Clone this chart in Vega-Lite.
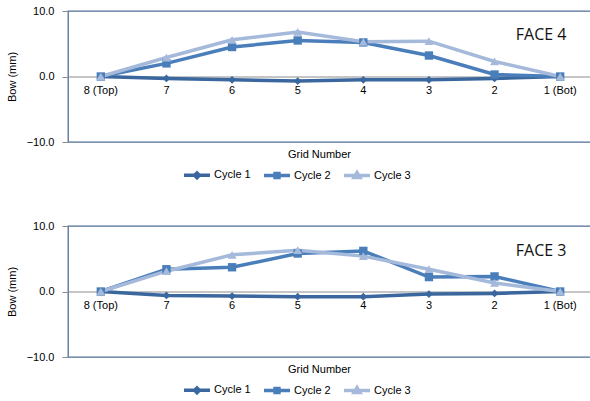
{
  "$schema": "https://vega.github.io/schema/vega-lite/v6.json",
  "padding": {"left": 5, "top": 4, "right": 0, "bottom": 0},
  "background": "white",
  "config": {
    "font": "Liberation Sans",
    "view": {"stroke": "#4f6f97", "strokeWidth": 1.3},
    "axis": {"labelFont": "Liberation Sans", "labelFontSize": 11, "labelColor": "#000", "titleFont": "Liberation Sans", "titleFontSize": 11, "titleFontWeight": "normal", "titleColor": "#000", "grid": false},
    "legend": {"labelFont": "Liberation Sans", "labelFontSize": 11, "labelColor": "#000"}
  },
  "data": {"values": [
    {"face": "FACE 4", "cycle": "Cycle 1", "grid": "8 (Top)", "bow": 0},
    {"face": "FACE 4", "cycle": "Cycle 1", "grid": "7", "bow": -0.3},
    {"face": "FACE 4", "cycle": "Cycle 1", "grid": "6", "bow": -0.5},
    {"face": "FACE 4", "cycle": "Cycle 1", "grid": "5", "bow": -0.7},
    {"face": "FACE 4", "cycle": "Cycle 1", "grid": "4", "bow": -0.5},
    {"face": "FACE 4", "cycle": "Cycle 1", "grid": "3", "bow": -0.5},
    {"face": "FACE 4", "cycle": "Cycle 1", "grid": "2", "bow": -0.3},
    {"face": "FACE 4", "cycle": "Cycle 1", "grid": "1 (Bot)", "bow": 0},
    {"face": "FACE 4", "cycle": "Cycle 2", "grid": "8 (Top)", "bow": 0},
    {"face": "FACE 4", "cycle": "Cycle 2", "grid": "7", "bow": 2.0},
    {"face": "FACE 4", "cycle": "Cycle 2", "grid": "6", "bow": 4.5},
    {"face": "FACE 4", "cycle": "Cycle 2", "grid": "5", "bow": 5.5},
    {"face": "FACE 4", "cycle": "Cycle 2", "grid": "4", "bow": 5.2},
    {"face": "FACE 4", "cycle": "Cycle 2", "grid": "3", "bow": 3.2},
    {"face": "FACE 4", "cycle": "Cycle 2", "grid": "2", "bow": 0.3},
    {"face": "FACE 4", "cycle": "Cycle 2", "grid": "1 (Bot)", "bow": 0},
    {"face": "FACE 4", "cycle": "Cycle 3", "grid": "8 (Top)", "bow": 0},
    {"face": "FACE 4", "cycle": "Cycle 3", "grid": "7", "bow": 2.9},
    {"face": "FACE 4", "cycle": "Cycle 3", "grid": "6", "bow": 5.6},
    {"face": "FACE 4", "cycle": "Cycle 3", "grid": "5", "bow": 6.8},
    {"face": "FACE 4", "cycle": "Cycle 3", "grid": "4", "bow": 5.3},
    {"face": "FACE 4", "cycle": "Cycle 3", "grid": "3", "bow": 5.4},
    {"face": "FACE 4", "cycle": "Cycle 3", "grid": "2", "bow": 2.3},
    {"face": "FACE 4", "cycle": "Cycle 3", "grid": "1 (Bot)", "bow": 0},
    {"face": "FACE 3", "cycle": "Cycle 1", "grid": "8 (Top)", "bow": 0},
    {"face": "FACE 3", "cycle": "Cycle 1", "grid": "7", "bow": -0.6},
    {"face": "FACE 3", "cycle": "Cycle 1", "grid": "6", "bow": -0.7},
    {"face": "FACE 3", "cycle": "Cycle 1", "grid": "5", "bow": -0.8},
    {"face": "FACE 3", "cycle": "Cycle 1", "grid": "4", "bow": -0.8},
    {"face": "FACE 3", "cycle": "Cycle 1", "grid": "3", "bow": -0.4},
    {"face": "FACE 3", "cycle": "Cycle 1", "grid": "2", "bow": -0.3},
    {"face": "FACE 3", "cycle": "Cycle 1", "grid": "1 (Bot)", "bow": 0},
    {"face": "FACE 3", "cycle": "Cycle 2", "grid": "8 (Top)", "bow": 0},
    {"face": "FACE 3", "cycle": "Cycle 2", "grid": "7", "bow": 3.4},
    {"face": "FACE 3", "cycle": "Cycle 2", "grid": "6", "bow": 3.7},
    {"face": "FACE 3", "cycle": "Cycle 2", "grid": "5", "bow": 5.8},
    {"face": "FACE 3", "cycle": "Cycle 2", "grid": "4", "bow": 6.2},
    {"face": "FACE 3", "cycle": "Cycle 2", "grid": "3", "bow": 2.2},
    {"face": "FACE 3", "cycle": "Cycle 2", "grid": "2", "bow": 2.3},
    {"face": "FACE 3", "cycle": "Cycle 2", "grid": "1 (Bot)", "bow": 0},
    {"face": "FACE 3", "cycle": "Cycle 3", "grid": "8 (Top)", "bow": 0},
    {"face": "FACE 3", "cycle": "Cycle 3", "grid": "7", "bow": 3.1},
    {"face": "FACE 3", "cycle": "Cycle 3", "grid": "6", "bow": 5.6},
    {"face": "FACE 3", "cycle": "Cycle 3", "grid": "5", "bow": 6.3},
    {"face": "FACE 3", "cycle": "Cycle 3", "grid": "4", "bow": 5.4},
    {"face": "FACE 3", "cycle": "Cycle 3", "grid": "3", "bow": 3.4},
    {"face": "FACE 3", "cycle": "Cycle 3", "grid": "2", "bow": 1.3},
    {"face": "FACE 3", "cycle": "Cycle 3", "grid": "1 (Bot)", "bow": 0}
  ]},
  "spacing": 33,
  "resolve": {"legend": {"color": "independent"}},
  "vconcat": [
    {
      "width": 525, "height": 131,
      "layer": [
        {
          "transform": [{"filter": "datum.face == 'FACE 4'"}],
          "mark": {"type": "line", "strokeWidth": 3.5},
          "encoding": {
            "x": {"field": "grid", "type": "nominal", "sort": ["8 (Top)", "7", "6", "5", "4", "3", "2", "1 (Bot)"], "scale": {"type": "band", "paddingInner": 0, "paddingOuter": 0},
                  "axis": {"offset": -65.5, "labelAngle": 0, "ticks": false, "domainColor": "#8c8c8c", "labelPadding": 8, "title": "Grid Number", "titleX": 251, "titleY": 72}},
            "y": {"field": "bow", "type": "quantitative", "scale": {"domain": [-10, 10]},
                  "axis": {"values": [-10, 0, 10], "format": ".1f", "domain": false, "tickColor": "#8c8c8c", "tickSize": 6, "labelPadding": 8, "title": "Bow (mm)", "titlePadding": 9}},
            "color": {"field": "cycle", "type": "nominal", "scale": {"domain": ["Cycle 1", "Cycle 2", "Cycle 3"], "range": ["#3b679f", "#4a7ebb", "#a5b9db"]},
                      "legend": {"orient": "none", "legendX": 114, "legendY": 149, "direction": "horizontal", "title": null, "symbolSize": 676, "symbolStrokeWidth": 3.5, "labelOffset": 2, "columnPadding": 6,
                                 "encode": {"symbols": {"update": {
                                   "shape": {"signal": "datum.value == 'Cycle 1' ? 'M-1,0H1M0,-0.18L0.18,0L0,0.18L-0.18,0Z' : datum.value == 'Cycle 2' ? 'M-1,0H1M-0.15,-0.15H0.15V0.15H-0.15Z' : 'M-1,0H1M0,-0.22L0.22,0.15H-0.22Z'"},
                                   "fill": {"signal": "scale('color', datum.value)"},
                                   "stroke": {"signal": "scale('color', datum.value)"}}}}}}
          }
        },
        {
          "transform": [{"filter": "datum.face == 'FACE 4'"}],
          "mark": {"type": "point", "filled": true, "opacity": 1},
          "encoding": {
            "x": {"field": "grid", "type": "nominal", "sort": ["8 (Top)", "7", "6", "5", "4", "3", "2", "1 (Bot)"]},
            "y": {"field": "bow", "type": "quantitative"},
            "color": {"field": "cycle", "type": "nominal", "legend": null},
            "shape": {"field": "cycle", "type": "nominal", "scale": {"domain": ["Cycle 1", "Cycle 2", "Cycle 3"], "range": ["diamond", "square", "triangle-up"]}, "legend": null},
            "size": {"field": "cycle", "type": "nominal", "scale": {"domain": ["Cycle 1", "Cycle 2", "Cycle 3"], "range": [60, 80, 80]}, "legend": null}
          }
        },
        {
          "data": {"values": [{"face": "FACE 4"}]},
          "mark": {"type": "text", "font": "Open Sans", "fontSize": 16, "align": "center", "baseline": "middle", "dx": -19, "color": "#111"},
          "encoding": {
            "x": {"datum": "1 (Bot)"},
            "y": {"datum": 6.4},
            "text": {"field": "face"}
          }
        }
      ]
    },
    {
      "width": 525, "height": 131,
      "layer": [
        {
          "transform": [{"filter": "datum.face == 'FACE 3'"}],
          "mark": {"type": "line", "strokeWidth": 3.5},
          "encoding": {
            "x": {"field": "grid", "type": "nominal", "sort": ["8 (Top)", "7", "6", "5", "4", "3", "2", "1 (Bot)"], "scale": {"type": "band", "paddingInner": 0, "paddingOuter": 0},
                  "axis": {"offset": -65.5, "labelAngle": 0, "ticks": false, "domainColor": "#8c8c8c", "labelPadding": 8, "title": "Grid Number", "titleX": 251, "titleY": 72}},
            "y": {"field": "bow", "type": "quantitative", "scale": {"domain": [-10, 10]},
                  "axis": {"values": [-10, 0, 10], "format": ".1f", "domain": false, "tickColor": "#8c8c8c", "tickSize": 6, "labelPadding": 8, "title": "Bow (mm)", "titlePadding": 9}},
            "color": {"field": "cycle", "type": "nominal", "scale": {"domain": ["Cycle 1", "Cycle 2", "Cycle 3"], "range": ["#3b679f", "#4a7ebb", "#a5b9db"]},
                      "legend": {"orient": "none", "legendX": 114, "legendY": 149, "direction": "horizontal", "title": null, "symbolSize": 676, "symbolStrokeWidth": 3.5, "labelOffset": 2, "columnPadding": 6,
                                 "encode": {"symbols": {"update": {
                                   "shape": {"signal": "datum.value == 'Cycle 1' ? 'M-1,0H1M0,-0.18L0.18,0L0,0.18L-0.18,0Z' : datum.value == 'Cycle 2' ? 'M-1,0H1M-0.15,-0.15H0.15V0.15H-0.15Z' : 'M-1,0H1M0,-0.22L0.22,0.15H-0.22Z'"},
                                   "fill": {"signal": "scale('color', datum.value)"},
                                   "stroke": {"signal": "scale('color', datum.value)"}}}}}}
          }
        },
        {
          "transform": [{"filter": "datum.face == 'FACE 3'"}],
          "mark": {"type": "point", "filled": true, "opacity": 1},
          "encoding": {
            "x": {"field": "grid", "type": "nominal", "sort": ["8 (Top)", "7", "6", "5", "4", "3", "2", "1 (Bot)"]},
            "y": {"field": "bow", "type": "quantitative"},
            "color": {"field": "cycle", "type": "nominal", "legend": null},
            "shape": {"field": "cycle", "type": "nominal", "scale": {"domain": ["Cycle 1", "Cycle 2", "Cycle 3"], "range": ["diamond", "square", "triangle-up"]}, "legend": null},
            "size": {"field": "cycle", "type": "nominal", "scale": {"domain": ["Cycle 1", "Cycle 2", "Cycle 3"], "range": [60, 80, 80]}, "legend": null}
          }
        },
        {
          "data": {"values": [{"face": "FACE 3"}]},
          "mark": {"type": "text", "font": "Open Sans", "fontSize": 16, "align": "center", "baseline": "middle", "dx": -19, "color": "#111"},
          "encoding": {
            "x": {"datum": "1 (Bot)"},
            "y": {"datum": 6.2},
            "text": {"field": "face"}
          }
        }
      ]
    }
  ]
}
